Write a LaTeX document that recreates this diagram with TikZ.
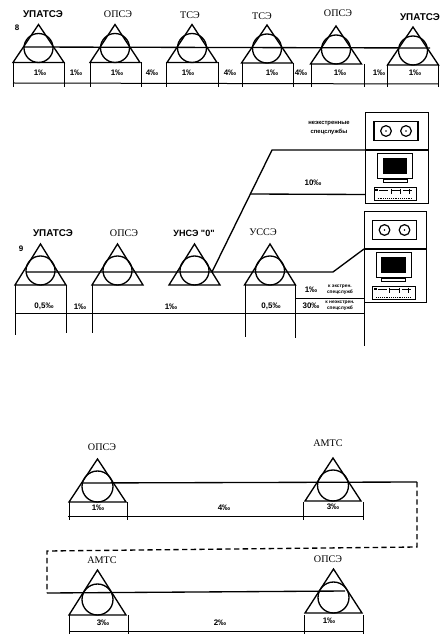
\documentclass[tikz,border=0pt]{standalone}
\usepackage{fontspec}
\setmainfont{Liberation Serif}
\newfontfamily\labelsans{Liberation Sans}
\usepackage{tikz}

% station symbol: name, x, base y, half width, height, circle radius
\newcommand{\station}[6]{%
  \node[ring,minimum size=#6*1.5pt] (#1) at (#2,#3-#6) {};
  \coordinate (#1 apex) at (#2,#3-#5);
  \coordinate (#1 bl) at (#2-#4,#3);
  \coordinate (#1 br) at (#2+#4,#3);
  \draw[wire] (#1 apex) -- (#1 bl) -- (#1 br) -- cycle;
}
% workstation: name, left, top, right, bottom, divider y
\newcommand{\terminal}[6]{%
  \node[cabinet,minimum width=#4*0.75pt-#2*0.75pt,minimum height=#5*0.75pt-#3*0.75pt,anchor=north west] (#1) at (#2,#3) {};
  \coordinate (#1 div) at (#2,#6);
  \draw[wire] (#1 div) -- (#4,#6);
  \node[tape] (#1 tape) at ({(#2+#4)/2-0.5},{(#3+#6)/2}) {};
  \foreach \sx in {-7.5,7.5} {
    \node[reel] at ([xshift=\sx pt]#1 tape.center) {};
    \fill ([xshift=\sx pt]#1 tape.center) circle (0.6pt);
  }
  \node[monitor] (#1 mon) at ({(#2+#4)/2-1.5},#6+16) {};
  \node[screen] at (#1 mon.center) {};
  \node[stand] at ([yshift=-1.5pt]#1 mon.south) {};
  \node[kbd] (#1 kbd) at ({(#2+#4)/2-1},#6+44) {};
  \draw[thin] ([xshift=4pt,yshift=-2pt]#1 kbd.north west) -- ++(7pt,0) ++(2pt,0) -- ++(7pt,0) ++(2pt,0) -- ++(7pt,0);
  \draw[thin] ([xshift=13pt,yshift=-1pt]#1 kbd.north west) -- ++(0,-4pt) ([xshift=20pt,yshift=-1pt]#1 kbd.north west) -- ++(0,-4pt) ([xshift=27pt,yshift=-1pt]#1 kbd.north west) -- ++(0,-4pt);
  \draw[thin,densely dotted] ([xshift=3pt,yshift=2pt]#1 kbd.south west) -- ++(26pt,0);
  \fill ([xshift=1pt,yshift=-1pt]#1 kbd.north west) rectangle ++(2.5pt,-2pt);
}

\begin{document}
\begin{tikzpicture}[
  x=0.75pt,y=-0.75pt,
  ring/.style={draw,circle,line width=1pt,inner sep=0pt},
  wire/.style={line width=1pt},
  dim/.style={line width=0.75pt},
  cabinet/.style={draw,line width=1pt,inner sep=0pt},
  tape/.style={draw,line width=1pt,inner sep=0pt,minimum width=33pt,minimum height=14pt},
  reel/.style={draw,circle,line width=0.9pt,inner sep=0pt,minimum size=8pt},
  monitor/.style={draw,line width=0.5pt,inner sep=0pt,minimum width=26pt,minimum height=18.5pt},
  screen/.style={fill=black,inner sep=0pt,minimum width=18.5pt,minimum height=12pt},
  stand/.style={draw,fill=white,line width=0.6pt,inner sep=0pt,minimum width=18pt,minimum height=2pt},
  kbd/.style={draw,line width=0.7pt,inner sep=0pt,minimum width=32pt,minimum height=9.5pt},
  stname/.style={font=\fontsize{7.6}{8}\selectfont,inner sep=0pt},
  stbold/.style={font=\labelsans\bfseries\fontsize{7.4}{8}\selectfont,inner sep=0pt},
  rate/.style={font=\labelsans\bfseries\fontsize{6}{7}\selectfont,inner sep=0pt},
  tinynote/.style={font=\labelsans\bfseries\fontsize{3.6}{4.6}\selectfont,align=center,inner sep=0pt}
]
\useasboundingbox (0,0) rectangle (446,641);

% upper chain
\station{a1}{38.5}{62.5}{25.5}{38}{14.5}
\station{a2}{115}{62.5}{25}{38}{14.5}
\station{a3}{192}{62.5}{25}{38}{14.5}
\station{a4}{267}{63}{25.5}{38}{14.5}
\station{a5}{336}{64}{25.5}{38}{14.5}
\station{a6}{413}{65}{25.5}{38}{14.5}
\coordinate (a wire l) at (24,47);
\coordinate (a wire r) at (430,48);
\draw[wire] (a wire l) -- (a wire r);
\coordinate (a dim l) at (13,83);
\coordinate (a dim r) at (438,84);
\draw[dim] (a dim l) -- (a dim r);
\foreach \xa/\ya in {13/62,64/62,90/62,141/62,166/62,218/62,242/63,293/63,311/64,364/64,387/65,438/65}
  \draw[dim] (\xa,\ya) -- (\xa,87);
\foreach \xa/\tx in {40/1,76/1,117/1,152/4,188/1,230/4,272/1,301/4,340/1,379/1,415/1}
  \node[rate] at (\xa,73) {\tx‰};
\node[stbold] (a1 name) at (43,14) {УПАТСЭ};
\node[stname] (a2 name) at (118,14) {ОПСЭ};
\node[stname] (a3 name) at (190,15) {ТСЭ};
\node[stname] (a4 name) at (262,16) {ТСЭ};
\node[stname] (a5 name) at (338,13) {ОПСЭ};
\node[stbold] (a6 name) at (420,17) {УПАТСЭ};
\node[rate] (a num) at (17,28) {8};

% middle chain
\station{b1}{40.5}{285}{25.5}{41}{14.5}
\station{b2}{117.5}{285}{25.5}{41}{14.5}
\station{b3}{194.5}{285}{25.5}{41}{14.5}
\station{b4}{270}{285}{25.5}{41}{14.5}
\terminal{t1}{365}{112}{428}{203}{150}
\terminal{t2}{364}{211}{426}{302}{249}
\coordinate (b wire l) at (26,272);
\coordinate (b knee) at (333,272);
\coordinate (b fork) at (212,272);
\coordinate (b up) at (272,150);
\coordinate (b low) at (250,194);
\draw[wire] (b wire l) -- (b knee) -- (t2 div);
\draw[wire] (b fork) -- (b up) -- (t1 div);
\draw[wire] (b low) -- (365,194.5);
\coordinate (b dim l) at (15,313);
\coordinate (b dim r) at (364,313);
\draw[dim] (b dim l) -- (b dim r);
\coordinate (b tab l) at (295,298);
\draw[dim] (b tab l) -- (364,298);
\foreach \xa/\yb in {15/335,66/333,92/333,245/337,295/338}
  \draw[dim] (\xa,285) -- (\xa,\yb);
\draw[dim] (t2.south west) -- (364,346);
\node[rate] at (44,306) {0,5‰};
\node[rate] at (80,307) {1‰};
\node[rate] at (171,307) {1‰};
\node[rate] at (271,306) {0,5‰};
\node[rate] at (311,290) {1‰};
\node[rate] at (311,306) {30‰};
\node[rate] at (313,183) {10‰};
\node[tinynote] (n1) at (340,290) {к экстрен.\\спецслужб};
\node[tinynote] (n2) at (340,306) {к неэкстрен.\\спецслужб};
\node[tinynote,font=\labelsans\bfseries\fontsize{4.4}{6.2}\selectfont] (n3) at (329,128) {неэкстренные\\спецслужбы};
\node[stbold] (b1 name) at (53,233) {УПАТСЭ};
\node[stname] (b2 name) at (124,233) {ОПСЭ};
\node[stbold,font=\labelsans\bfseries\fontsize{6.8}{8}\selectfont] (b3 name) at (194,233) {УНСЭ "0"};
\node[stname] (b4 name) at (263,232) {УССЭ};
\node[rate] (b num) at (21,249) {9};

% lower chain, first part
\station{c1}{97.5}{502}{28.5}{43}{15.5}
\station{c2}{333}{501}{28}{43}{15.5}
\coordinate (c wire l) at (81,483);
\coordinate (c turn) at (417,482);
\coordinate (c back) at (417,547);
\coordinate (d back) at (47,551);
\coordinate (d turn) at (47,593);
\coordinate (d wire r) at (345,591);
\draw[wire] (c wire l) -- (c turn);
\draw[wire,dash pattern=on 4pt off 2.5pt] (c turn) -- (c back) -- (d back) -- (d turn);
\draw[wire] (d turn) -- (d wire r);
\coordinate (c dim l) at (68,516);
\coordinate (c dim r) at (363,516);
\draw[dim] (c dim l) -- (c dim r);
\foreach \xa in {69,127,303,363}
  \draw[dim] (\xa,502) -- (\xa,520);
\node[rate] at (98,508) {1‰};
\node[rate] at (224,508) {4‰};
\node[rate] at (333,507) {3‰};
\node[stname] (c1 name) at (102,447) {ОПСЭ};
\node[stname] (c2 name) at (328,443) {АМТС};

% lower chain, second part
\station{d1}{97.5}{615}{28.5}{45}{15.5}
\station{d2}{333.5}{613}{28.5}{44}{15.5}
\coordinate (d dim l) at (69,631);
\coordinate (d dim r) at (363,631);
\draw[dim] (d dim l) -- (d dim r);
\foreach \xa in {69,128,304,363}
  \draw[dim] (\xa,615) -- (\xa,634);
\node[rate] at (103,623) {3‰};
\node[rate] at (220,623) {2‰};
\node[rate] at (329,621) {1‰};
\node[stname] (d1 name) at (102,560) {АМТС};
\node[stname] (d2 name) at (328,559) {ОПСЭ};
\end{tikzpicture}
\end{document}
